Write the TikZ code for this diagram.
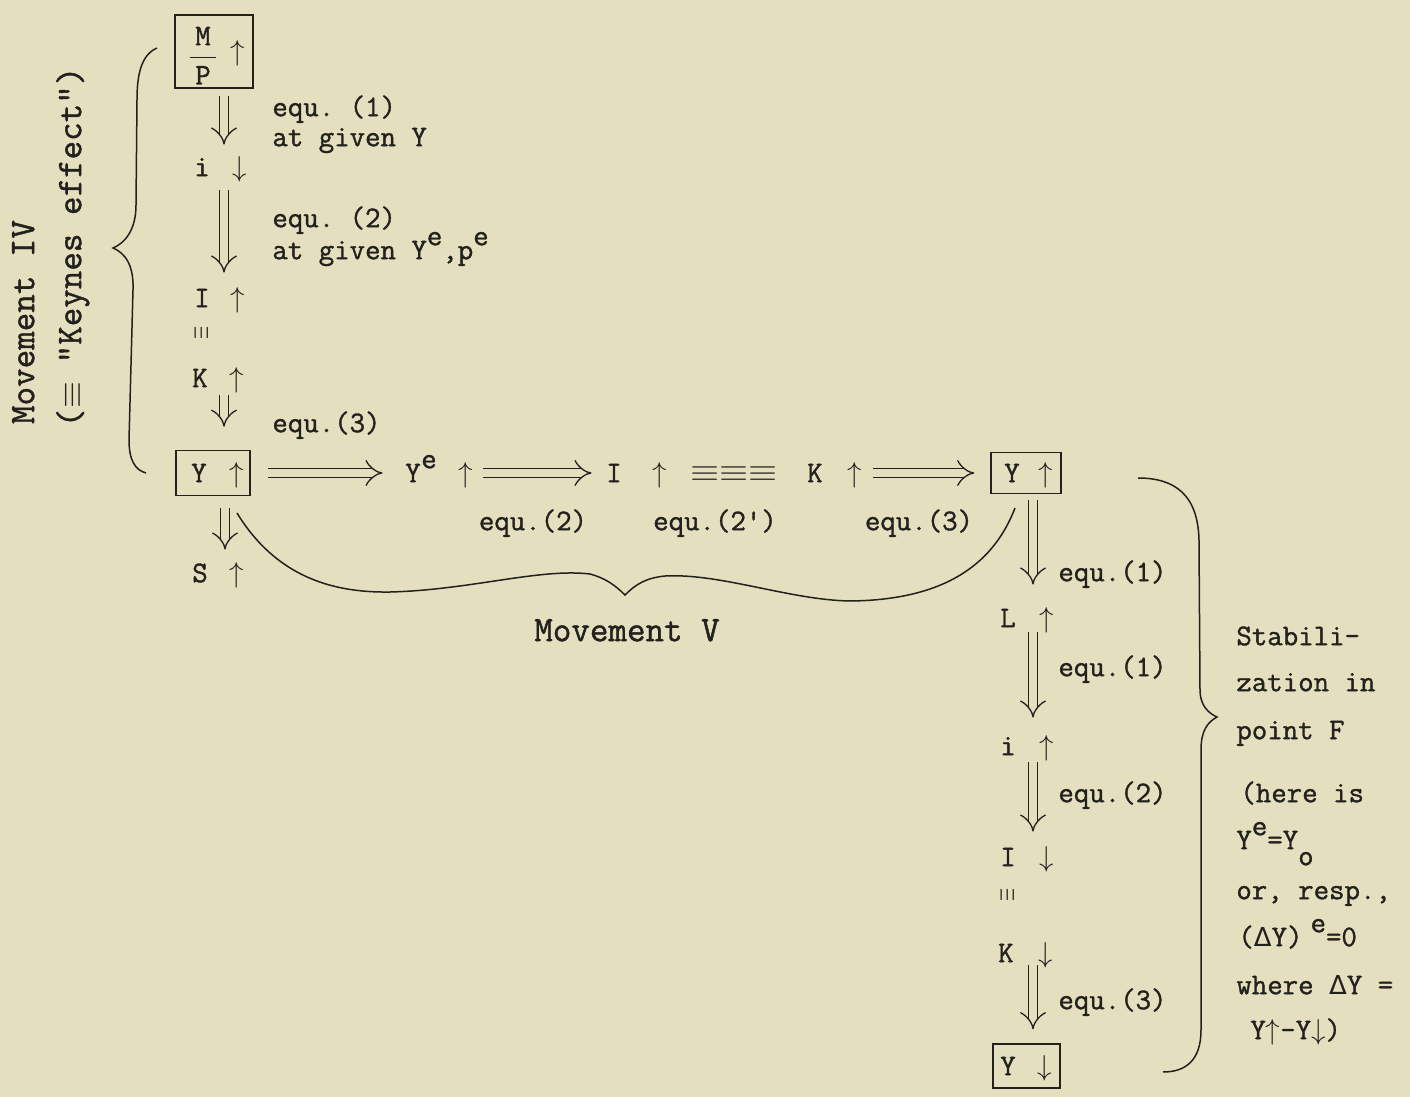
\documentclass[tikz,border=0pt]{standalone}
\usepackage{fontspec}
\setmonofont{Latin Modern Mono}[FakeBold=1.2]
\usetikzlibrary{arrows.meta}
\newfontfamily\djv{DejaVu Sans}
\definecolor{paper}{RGB}{228,223,191}
\definecolor{ink}{RGB}{35,33,30}
\newcommand\pr[3]{\makebox[8pt]{#1}\makebox[#3]{}\makebox[8pt]{$#2$}}
\newcommand\rz[1]{\raisebox{7pt}{#1}}
\newcommand\lz[1]{\raisebox{-8pt}{#1}}
\tikzset{
  bx/.style={draw=ink, line width=0.75pt},
  dbl/.style={draw=ink, double=paper, double distance=4pt, line width=0.65pt, -{Implies[scale=1.25]}},
  brc/.style={draw=ink, line width=0.75pt},
  big/.style={font=\ttfamily\fontsize{18}{20}\selectfont},
  veq/.style={font=\fontsize{12}{12}\selectfont, rotate=90},
  lab/.style={anchor=west}
}
\begin{document}
\begin{tikzpicture}[x=0.5pt, y=-0.5pt,
  every node/.style={inner sep=0pt, text height=9.2pt, text depth=0pt,
    font=\ttfamily\fontsize{15}{18}\selectfont, text=ink}]
\fill[paper] (0,0) rectangle (1410,1097);
\useasboundingbox (0,0) rectangle (1410,1097);

% ---- left column
\node[bx, minimum width=39pt, minimum height=36.5pt] (mp) at (214,51.5)
  {\hspace{6.5pt}\makebox[8pt]{\raisebox{-2pt}{$\displaystyle\frac{\hbox{\,M\,}}{\hbox{P}}$}}\makebox[9.5pt]{}\makebox[8pt]{$\uparrow$}};
\node (i1) at (221,167) {\pr{i}{\downarrow}{11pt}};
\node (I1) at (220,298) {\pr{I}{\uparrow}{10pt}};
\node[veq] (eqA) at (200,333) {\scalebox{0.7}[1.3]{$\equiv$}};
\node (K1) at (218.5,378) {\pr{K}{\uparrow}{10.5pt}};
\node[bx, minimum width=37pt, minimum height=22.5pt] (Y1) at (213,473)
  {\hspace{5pt}\pr{Y}{\uparrow}{11pt}};
\node (S1) at (218.5,573) {\pr{S}{\uparrow}{10.5pt}};

\node[lab] (l1) at (272,107) {equ. (1)};
\node[lab] (l2) at (272,137) {at given Y};
\node[lab] (l3) at (272,218) {equ. (2)};
\node[lab] (l4) at (272,250) {at given Y\rz{e},p\rz{e}};
\node[lab] (l5) at (272,423) {equ.(3)};

\draw[dbl, shorten <=3.5pt, shorten >=6.4pt] (224,0 |- mp.south) -- (224,0 |- i1.north);
\draw[dbl, shorten <=6.9pt, shorten >=7.9pt] (224,0 |- i1.south) -- (224,0 |- I1.north);
\draw[dbl, shorten <=3.9pt, shorten >=11.5pt] (224,0 |- K1.south) -- (224,0 |- Y1.north);
\draw[dbl, shorten <=6pt, shorten >=6.9pt] (225,0 |- Y1.south) -- (225,0 |- S1.north);

% ---- middle row
\node (ye) at (439.5,473) {\makebox[8pt]{Y}\makebox[8pt]{\rz{e}}\makebox[10.5pt]{}\makebox[8pt]{$\uparrow$}};
\node (I3) at (637,473) {\pr{I}{\uparrow}{15pt}};
\node (eqB) at (734,472) {\scalebox{1.3}[1.1]{$\equiv\equiv\equiv$}};
\node (K3) at (835,473) {\pr{K}{\uparrow}{12pt}};
\node[bx, minimum width=35pt, minimum height=20.5pt] (Y2) at (1026,473)
  {\hspace{3pt}\pr{Y}{\uparrow}{9pt}};

\draw[dbl, shorten <=8.5pt, shorten >=11pt] (Y1.east) -- (ye.west);
\draw[dbl, shorten <=4.5pt, shorten >=7pt] (ye.east) -- (I3.west);
\draw[dbl, shorten <=5pt, shorten >=8pt] (K3.east) -- (Y2.west);

\node (m1) at (533,521) {equ.(2)};
\node (m2) at (715,521) {equ.(2\char"27)};
\node (m3) at (919,521) {equ.(3)};

% ---- right column
\node (L2) at (1027.5,618) {\pr{L}{\uparrow}{11.5pt}};
\node (i2) at (1027.5,746) {\pr{i}{\uparrow}{11.5pt}};
\node (I2) at (1027.5,857) {\pr{I}{\downarrow}{11.5pt}};
\node[veq] (eqC) at (1006,895) {\scalebox{0.7}[1.3]{$\equiv$}};
\node (K2) at (1026,953) {\pr{K}{\downarrow}{12pt}};
\node[bx, minimum width=33.5pt, minimum height=22pt] (Y3) at (1026.5,1066)
  {\pr{Y}{\downarrow}{10.5pt}};

\draw[dbl, shorten <=3pt, shorten >=11.9pt] (1033,0 |- Y2.south) -- (1033,0 |- L2.north);
\draw[dbl, shorten <=2.4pt, shorten >=9.4pt] (1033,0 |- L2.south) -- (1033,0 |- i2.north);
\draw[dbl, shorten <=3.4pt, shorten >=7.9pt] (1033,0 |- i2.south) -- (1033,0 |- I2.north);
\draw[dbl, shorten <=1.4pt, shorten >=7pt] (1033,0 |- K2.south) -- (1033,0 |- Y3.north);

\node[lab] (r1) at (1058,572) {equ.(1)};
\node[lab] (r2) at (1058,667) {equ.(1)};
\node[lab] (r3) at (1058,793) {equ.(2)};
\node[lab] (r4) at (1058,1000) {equ.(3)};

\node[lab] (t1) at (1236,636) {Stabili-};
\node[lab] (t2) at (1236,682) {zation in};
\node[lab] (t3) at (1236,730) {point F};
\node[lab] (t4) at (1240,793) {(here is};
\node[lab] (t5) at (1236,840) {Y\rz{e}=Y\lz{o}};
\node[lab] (t6) at (1236,890) {or, resp.,};
\node[lab] (t7) at (1238,937) {({\djv\fontsize{13}{15}\selectfont Δ}Y)\hspace{4pt}\rz{e}=0};
\node[lab] (t8) at (1236,985) {where {\djv\fontsize{13}{15}\selectfont Δ}Y =};
\node[lab] (t9) at (1250,1030) {Y$\uparrow$-Y$\downarrow$)};

% ---- rotated labels and Movement V
\node[big, rotate=90] (mIV) at (25,322) {Movement IV};
\node[big, rotate=90] (keyn) at (72,247) {($\equiv$ "Keynes effect")};
\node[big] (mV) at (627,632) {Movement V};

% ---- braces
\draw[brc] (157,48) .. controls (141,55) and (137,75) .. (137,100) -- (136,205)
  .. controls (136,230) and (125,243) .. (113,248)
  .. controls (125,253) and (134,265) .. (133,290) -- (129,440)
  .. controls (129,460) and (135,470) .. (146,473);
\draw[brc] (237,513) .. controls (275,575) and (330,593) .. (390,592)
  .. controls (470,590) and (540,568) .. (590,574)
  .. controls (605,578) and (615,585) .. (625,595)
  .. controls (635,585) and (645,578) .. (665,576)
  .. controls (720,573) and (790,600) .. (850,601)
  .. controls (950,600) and (995,560) .. (1015,508);
\draw[brc] (1138,478) .. controls (1175,478) and (1198,495) .. (1199,540) -- (1200,690)
  .. controls (1200,705) and (1208,713) .. (1217,717)
  .. controls (1208,722) and (1201,730) .. (1201,750) -- (1201,1030)
  .. controls (1201,1060) and (1186,1072) .. (1163,1072);
\end{tikzpicture}
\end{document}
